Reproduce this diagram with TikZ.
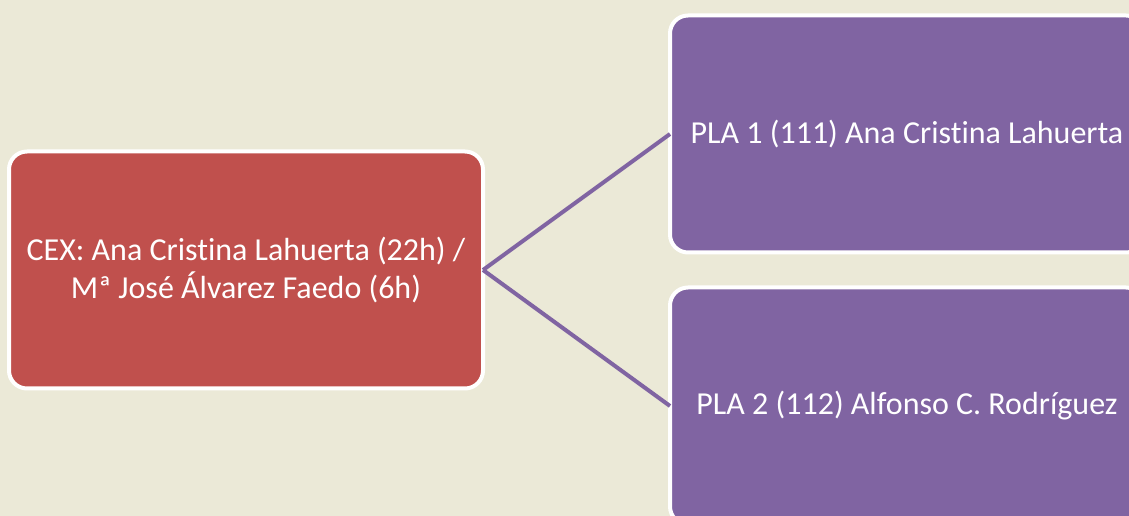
\documentclass[tikz,border=0pt]{standalone}
\usepackage{fontspec}
\setmainfont{Carlito}[Ligatures={NoCommon,NoContextual}]
\definecolor{bgtan}{HTML}{EBE9D7}
\definecolor{cexred}{HTML}{C0504D}
\definecolor{plapurple}{HTML}{8064A2}

\begin{document}
\begin{tikzpicture}[x=1pt, y=1pt, grow'=right,
    level distance=661pt, sibling distance=272pt,
    every node/.style = {shape=rectangle, rounded corners=18pt,
      draw=white, line width=4pt, outer sep=0pt, align=center,
      minimum width=474pt, minimum height=237pt,
      text=white, font=\fontsize{32}{38}\selectfont},
    edge from parent/.style = {draw=plapurple, line width=4pt},
    parent anchor=east, child anchor=west]
    \path[fill=bgtan, use as bounding box] (0,0) rectangle (1129,516);
    \node[fill=cexred] (cex) at (246,246) {CEX: Ana Cristina Lahuerta (22h) / \\ Mª José Álvarez Faedo (6h)}
        child { node[fill=plapurple] (pla1) {PLA 1 (111) Ana Cristina Lahuerta} }
        child { node[fill=plapurple] (pla2) {PLA 2 (112) Alfonso C. Rodríguez} };
\end{tikzpicture}
\end{document}
